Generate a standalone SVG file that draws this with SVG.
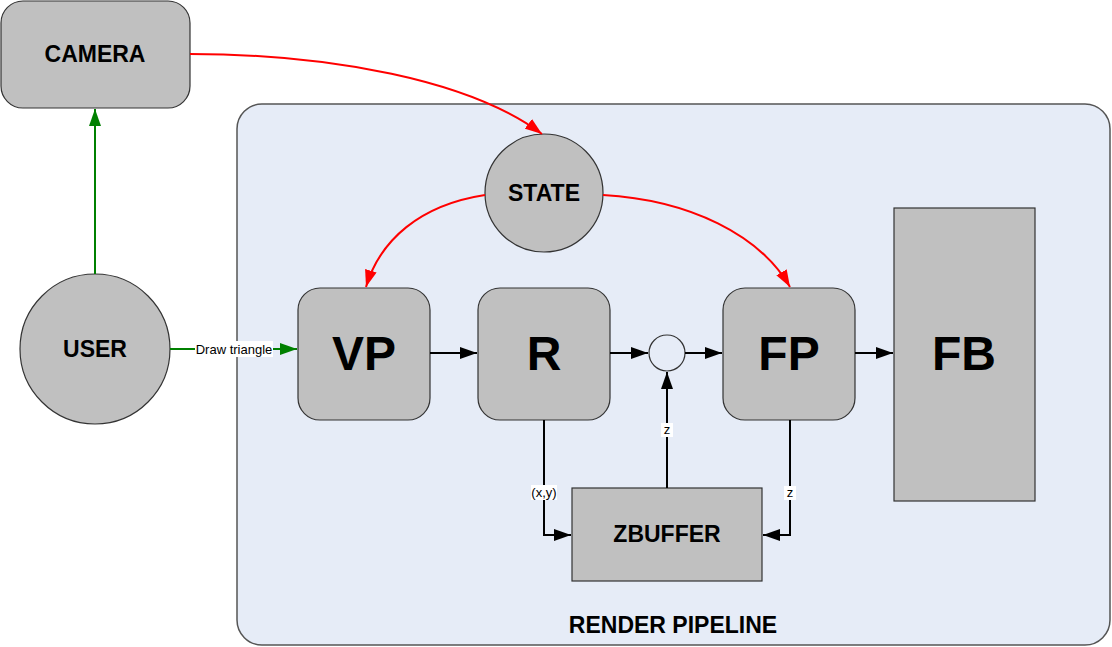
<svg xmlns="http://www.w3.org/2000/svg" width="1112" height="647" viewBox="0 0 1112 647">
<style>
.box{fill:#c0c0c0;stroke:#333;stroke-width:1.2}
.t{font-family:"Liberation Sans",Arial,sans-serif;font-weight:bold;fill:#000;text-anchor:middle}
.lbl{font-family:"Liberation Sans",Arial,sans-serif;font-size:13px;fill:#000;text-anchor:middle}
.blk{fill:none;stroke:#000;stroke-width:2}
.grn{fill:none;stroke:#008000;stroke-width:2}
.red{fill:none;stroke:#ff0000;stroke-width:2}
</style>
<defs>
<marker id="ab" markerUnits="userSpaceOnUse" markerWidth="18" markerHeight="12" refX="17" refY="6" orient="auto"><path d="M0,0 L17,6 L0,12 Z" fill="#000"/></marker>
<marker id="ag" markerUnits="userSpaceOnUse" markerWidth="18" markerHeight="12" refX="17" refY="6" orient="auto"><path d="M0,0 L17,6 L0,12 Z" fill="#008000"/></marker>
<marker id="ar" markerUnits="userSpaceOnUse" markerWidth="18" markerHeight="12" refX="17" refY="6" orient="auto"><path d="M0,0 L17,6 L0,12 Z" fill="#ff0000"/></marker>
</defs>
<rect width="1112" height="647" fill="#fff"/>
<g id="pipeline">
<rect x="237" y="104" width="873" height="541" rx="25" fill="#e6ecf7" stroke="#555" stroke-width="1.5"/>
<text class="t" x="673" y="633" font-size="23">RENDER PIPELINE</text>
</g>
<g id="camera"><rect class="box" x="1" y="1" width="189" height="107" rx="22"/><text class="t" x="95" y="62" font-size="23">CAMERA</text></g>
<g id="user"><circle class="box" cx="95" cy="349" r="75"/><text class="t" x="95" y="357" font-size="23">USER</text></g>
<g id="state"><circle class="box" cx="544" cy="193" r="59"/><text class="t" x="544" y="201" font-size="23">STATE</text></g>
<g id="vp"><rect class="box" x="298" y="288" width="132" height="132" rx="22"/><text class="t" x="364" y="370" font-size="48">VP</text></g>
<g id="r"><rect class="box" x="478" y="288" width="132" height="132" rx="22"/><text class="t" x="544" y="370" font-size="48">R</text></g>
<g id="join"><circle cx="667" cy="353" r="18" fill="#e6ecf7" stroke="#333" stroke-width="1.2"/></g>
<g id="fp"><rect class="box" x="723" y="288" width="132" height="132" rx="22"/><text class="t" x="789" y="370" font-size="48">FP</text></g>
<g id="fb"><rect class="box" x="894" y="208" width="141" height="293"/><text class="t" x="964" y="370" font-size="48">FB</text></g>
<g id="zbuffer"><rect class="box" x="572" y="488" width="190" height="93"/><text class="t" x="667" y="542" font-size="23">ZBUFFER</text></g>
<g id="connectors">
<path class="grn" d="M95,274 V109" marker-end="url(#ag)"/>
<path class="grn" d="M170,349 H297" marker-end="url(#ag)"/>
<rect x="195" y="341" width="78" height="16" fill="#fff"/>
<text class="lbl" x="234" y="354">Draw triangle</text>
<path class="red" d="M190,54 C330,54 470,80 542,134" marker-end="url(#ar)"/>
<path class="red" d="M485,195 C420,205 380,240 366,287" marker-end="url(#ar)"/>
<path class="red" d="M603,195 C690,200 760,235 790,287" marker-end="url(#ar)"/>
<path class="blk" d="M430,353 H477" marker-end="url(#ab)"/>
<path class="blk" d="M610,353 H648" marker-end="url(#ab)"/>
<path class="blk" d="M685,353 H722" marker-end="url(#ab)"/>
<path class="blk" d="M855,353 H893" marker-end="url(#ab)"/>
<path class="blk" d="M544,420 V535 H571" marker-end="url(#ab)"/>
<path class="blk" d="M667,488 V372" marker-end="url(#ab)"/>
<path class="blk" d="M790,420 V535 H763" marker-end="url(#ab)"/>
<rect x="531" y="485" width="26" height="15" fill="#fff"/>
<text class="lbl" x="544" y="497">(x,y)</text>
<rect x="661" y="423" width="12" height="14" fill="#fff"/>
<text class="lbl" x="667" y="434">z</text>
<rect x="784" y="486" width="12" height="14" fill="#fff"/>
<text class="lbl" x="790" y="497">z</text>
</g>
</svg>
